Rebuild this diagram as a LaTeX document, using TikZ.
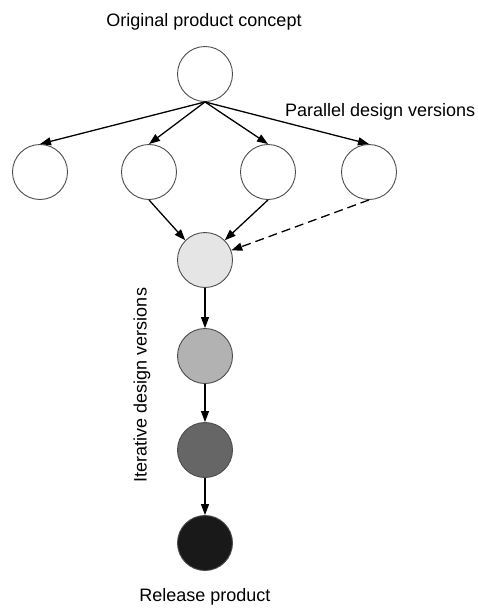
\documentclass[tikz,border=0pt]{standalone}
\usepackage{fontspec}
\setmainfont{Liberation Sans}
\usetikzlibrary{arrows.meta}
\begin{document}
\begin{tikzpicture}[x=1pt,y=-1pt,
  version/.style={circle,draw=black!70,line width=0.9pt,minimum size=55pt,inner sep=0pt},
  link/.style={line width=1.3pt,-{Triangle[length=11pt,width=8pt]}},
  lbl/.style={font=\fontsize{18}{21}\selectfont,inner sep=0pt}]
\useasboundingbox (0,0) rectangle (477,608);
% concept and parallel versions
\node[version] (c) at (205,74) {};
\node[version] (p1) at (40,172) {};
\node[version] (p2) at (149,172) {};
\node[version] (p3) at (268,172) {};
\node[version] (p4) at (369,172) {};
% iterative versions
\node[version,fill=black!10] (i1) at (205,260) {};
\node[version,fill=black!30] (i2) at (205,356) {};
\node[version,fill=black!60] (i3) at (205,450) {};
\node[version,fill=black!90] (i4) at (205,543) {};
% labels
\node[lbl] (t1) at (204,22) {Original product concept};
\node[lbl,anchor=west] (t2) at (285,112) {Parallel design versions};
\node[lbl,rotate=90] (t3) at (142,385) {Iterative design versions};
\node[lbl] (t4) at (205,597) {Release product};
% connectors
\coordinate (cb) at (c.south);
\draw[link] (cb) -- (p1.north);
\draw[link] (cb) -- (p2.north);
\draw[link] (cb) -- (p3.north);
\draw[link] (cb) -- (p4.north);
\draw[link] (p2.south) -- (i1.north west);
\draw[link] (p3.south) -- (i1.north east);
\draw[link,dashed,dash pattern=on 9pt off 5pt] (p4.south) -- (i1.20);
\draw[link] (i1) -- (i2);
\draw[link] (i2) -- (i3);
\draw[link] (i3) -- (i4);
\end{tikzpicture}
\end{document}
